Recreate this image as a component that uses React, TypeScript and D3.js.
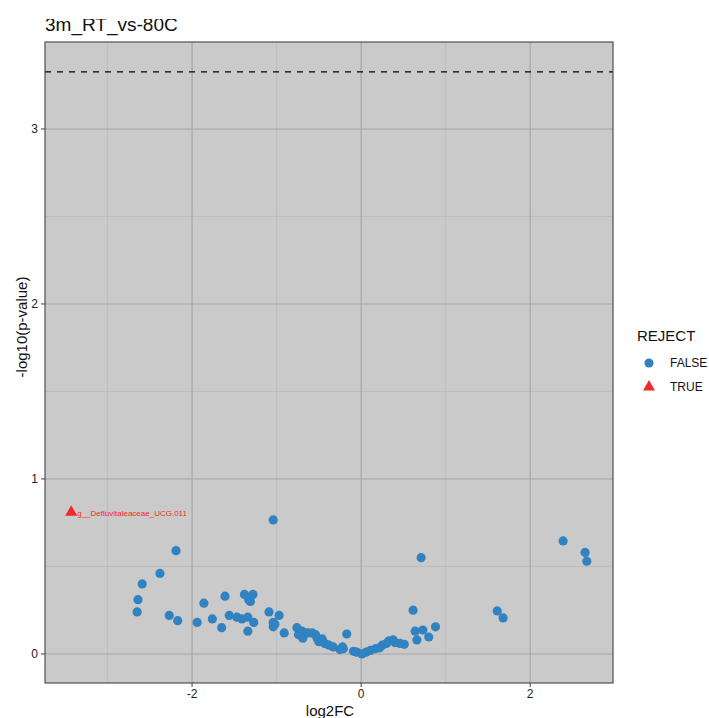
import React from 'react';
import * as d3 from 'd3';

// log2FC / -log10(p) for non-rejected features
const falseX = [
  -2.65, -2.64, -2.59, -2.38, -2.19, -2.27, -2.17, -1.94, -1.86, -1.76,
  -1.65, -1.61, -1.56, -1.47, -1.41, -1.34, -1.27, -1.34, -1.38, -1.28,
  -1.33, -1.31, -1.09, -0.97, -1.04, -1.04, -1.02, -1.04, -0.91, -0.76,
  -0.74, -0.70, -0.66, -0.69, -0.63, -0.58, -0.54, -0.52, -0.50, -0.46,
  -0.43, -0.38, -0.33, -0.25, -0.22, -0.21, -0.17, -0.09, -0.05, 0.01,
  0.06, 0.11, 0.17, 0.22, 0.25, 0.30, 0.33, 0.38, 0.40, 0.46,
  0.51, 0.615, 0.64, 0.66, 0.73, 0.80, 0.88, 0.71, 1.61, 1.68,
  2.39, 2.65, 2.67,
];
const falseY = [
  0.24, 0.31, 0.40, 0.46, 0.59, 0.22, 0.19, 0.18, 0.29, 0.20,
  0.15, 0.33, 0.22, 0.21, 0.20, 0.21, 0.18, 0.13, 0.34, 0.34,
  0.31, 0.30, 0.24, 0.22, 0.18, 0.155, 0.17, 0.766, 0.12, 0.15,
  0.11, 0.13, 0.12, 0.09, 0.12, 0.12, 0.11, 0.09, 0.07, 0.086,
  0.06, 0.05, 0.04, 0.025, 0.04, 0.03, 0.114, 0.015, 0.01, 0.0,
  0.01, 0.02, 0.03, 0.035, 0.05, 0.06, 0.075, 0.08, 0.065, 0.06,
  0.055, 0.25, 0.13, 0.08, 0.137, 0.097, 0.155, 0.55, 0.246, 0.206,
  0.646, 0.58, 0.53,
];

// rejected features
const trueX = [-3.43];
const trueY = [0.81];
const trueLabels = ['g__Defluvitaleaceae_UCG.011'];

const threshold = 3.326;
const xTicks = [-2, 0, 2];
const yTicks = [0, 1, 2, 3];
const xMinor = [-3, -1, 1, 3];
const yMinor = [0.5, 1.5, 2.5];

const W = 709;
const H = 718;
const panel = { left: 45, right: 613, top: 42, bottom: 683 };
const font = '"Liberation Sans", Arial, sans-serif';
const blue = '#3182c0';
const red = '#ee2a2a';

export default function App() {
  const x = d3.scaleLinear().domain([-3.74, 2.98]).range([panel.left, panel.right]);
  const y = d3.scaleLinear().domain([-0.166, 3.497]).range([panel.bottom, panel.top]);
  const tri = d3.symbol(d3.symbolTriangle, 62)();

  const pts = falseX.map((v, i) => ({ x: v, y: falseY[i] }));
  const rej = trueX.map((v, i) => ({ x: v, y: trueY[i], label: trueLabels[i] }));

  return (
    <svg width={W} height={H} style={{ position: 'absolute', left: 0, top: 0, background: '#fff' }} fontFamily={font}>
      <defs>
        <clipPath id="titleClip">
          <rect x={0} y={19} width={W} height={30} />
        </clipPath>
        <clipPath id="panelClip">
          <rect x={panel.left} y={panel.top} width={panel.right - panel.left} height={panel.bottom - panel.top} />
        </clipPath>
      </defs>

      {/* title is cropped at the top in the source image */}
      <text x={45} y={30.5} fontSize={19} fill="#111" clipPath="url(#titleClip)">3m_RT_vs-80C</text>

      <rect x={panel.left} y={panel.top} width={panel.right - panel.left} height={panel.bottom - panel.top} fill="#c9cac9" />

      <g clipPath="url(#panelClip)">
        {xMinor.map(t => (
          <line key={'xm' + t} x1={x(t)} x2={x(t)} y1={panel.top} y2={panel.bottom} stroke="#b9bab9" strokeWidth={0.8} />
        ))}
        {yMinor.map(t => (
          <line key={'ym' + t} x1={panel.left} x2={panel.right} y1={y(t)} y2={y(t)} stroke="#b9bab9" strokeWidth={0.8} />
        ))}
        {xTicks.map(t => (
          <line key={'xg' + t} x1={x(t)} x2={x(t)} y1={panel.top} y2={panel.bottom} stroke="#a3a4a3" strokeWidth={1.1} />
        ))}
        {yTicks.map(t => (
          <line key={'yg' + t} x1={panel.left} x2={panel.right} y1={y(t)} y2={y(t)} stroke="#a3a4a3" strokeWidth={1.1} />
        ))}

        <line x1={panel.left} x2={panel.right} y1={y(threshold)} y2={y(threshold)} stroke="#000" strokeWidth={1.4} strokeDasharray="6,6" />

        {pts.map((d, i) => (
          <circle key={i} cx={x(d.x)} cy={y(d.y)} r={4.6} fill={blue} />
        ))}
        {rej.map((d, i) => (
          <g key={'r' + i}>
            <path d={tri} transform={`translate(${x(d.x)},${y(d.y)})`} fill={red} />
            <text x={x(d.x) + 6} y={y(d.y) + 4} fontSize={8} fill={red}>{d.label}</text>
          </g>
        ))}
      </g>

      <rect x={panel.left} y={panel.top} width={panel.right - panel.left} height={panel.bottom - panel.top} fill="none" stroke="#444" strokeWidth={1.1} />

      {/* y axis */}
      {yTicks.map(t => (
        <g key={'yt' + t}>
          <line x1={panel.left - 4} x2={panel.left} y1={y(t)} y2={y(t)} stroke="#444" />
          <text x={panel.left - 7} y={y(t) + 4.5} fontSize={12} textAnchor="end" fill="#222">{t}</text>
        </g>
      ))}
      {/* x axis */}
      {xTicks.map(t => (
        <g key={'xt' + t}>
          <line x1={x(t)} x2={x(t)} y1={panel.bottom} y2={panel.bottom + 4} stroke="#444" />
          <text x={x(t)} y={panel.bottom + 15} fontSize={12} textAnchor="middle" fill="#222">{t}</text>
        </g>
      ))}

      <text x={330} y={716} fontSize={15} textAnchor="middle" fill="#111">log2FC</text>
      <text transform="translate(27,327) rotate(-90)" fontSize={15} textAnchor="middle" fill="#111">-log10(p-value)</text>

      {/* legend */}
      <text x={637} y={341} fontSize={15} fill="#111">REJECT</text>
      <circle cx={649} cy={363} r={4.6} fill={blue} />
      <text x={670} y={367} fontSize={12} fill="#111">FALSE</text>
      <path d={tri} transform="translate(649,387)" fill={red} />
      <text x={670} y={391} fontSize={12} fill="#111">TRUE</text>
    </svg>
  );
}
